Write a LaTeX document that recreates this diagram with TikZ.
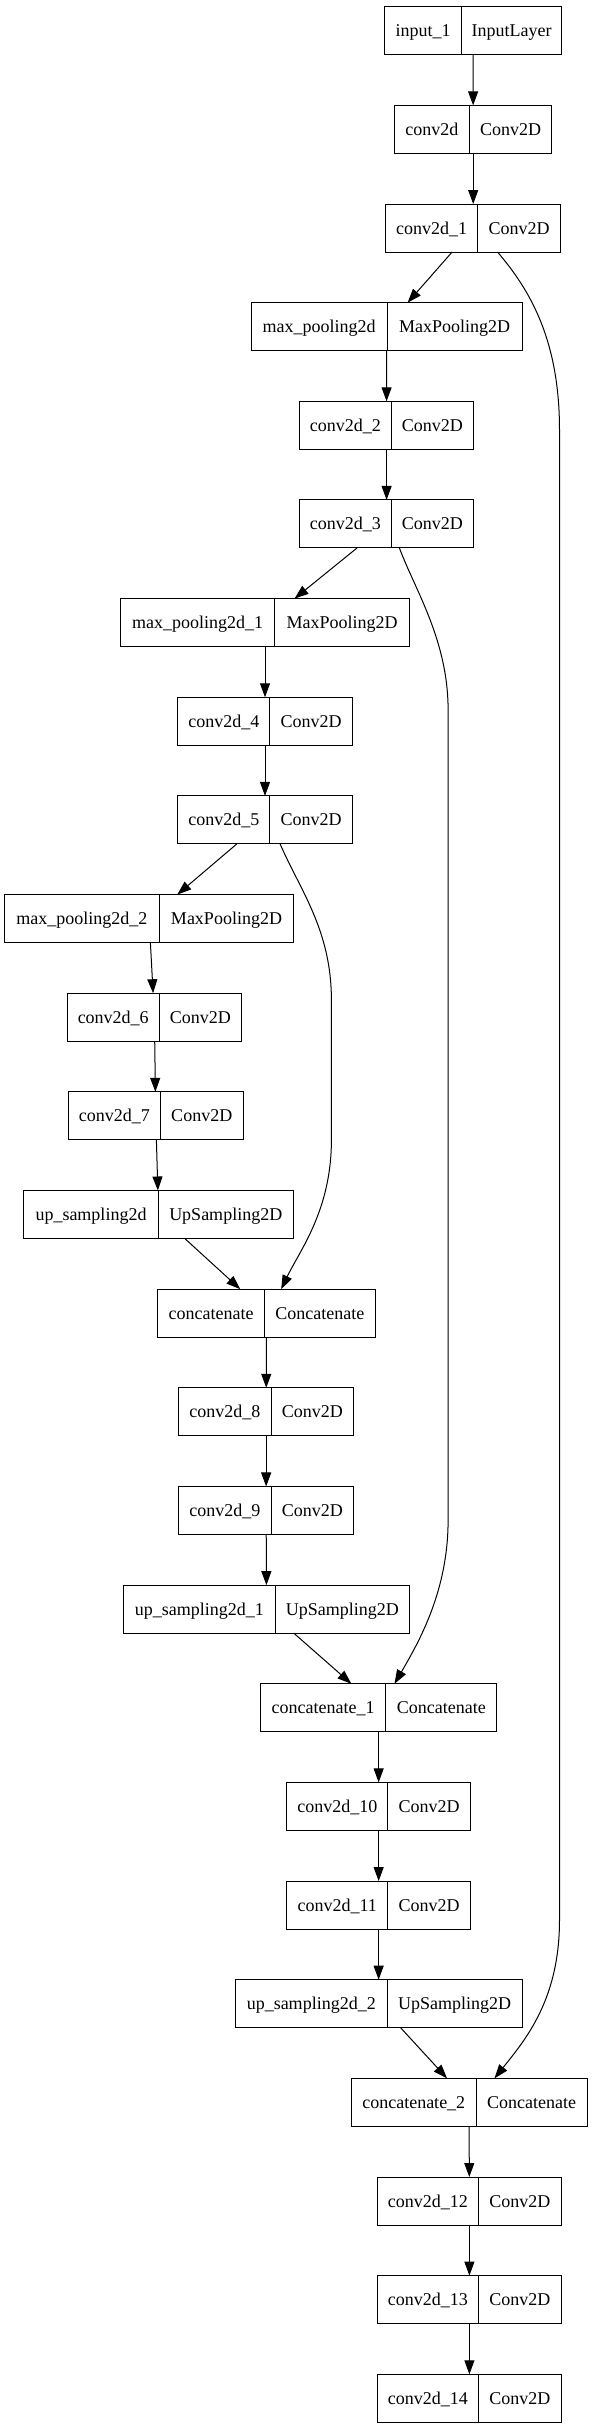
\documentclass[tikz,border=0pt]{standalone}
\usepackage{fontspec}
\setmainfont{Liberation Serif}
\usetikzlibrary{arrows.meta}
\tikzset{
  cell/.style={draw, line width=1pt, inner sep=0pt, outer sep=0pt, minimum height=48pt,
    text height=16pt, text depth=4pt, font=\fontsize{18}{20}\selectfont},
  boxarea/.style={inner sep=0pt, outer sep=0pt, minimum height=48pt},
  edge/.style={line width=1pt, -{Triangle[length=14pt,width=10pt]}}
}
\newcommand\lyr[7]{%
  \pgfmathsetmacro\yt{6.7+98.65*#5}%
  \node[cell, minimum width={(#3-#2)*1pt}, anchor=north west] (#1a) at (#2,\yt) {#6};%
  \node[cell, minimum width={(#4-#3)*1pt}, anchor=north west] (#1b) at (#3,\yt) {#7};%
  \node[boxarea, minimum width={(#4-#2)*1pt}, anchor=north west] (#1) at (#2,\yt) {};%
}
\begin{document}
\begin{tikzpicture}[x=1pt,y=-1pt]
\useasboundingbox (0,0) rectangle (592,2429);
\lyr{in1}{384.3}{461.7}{561.7}{0}{input\_1}{InputLayer}
\lyr{c0}{394.5}{469.2}{551.9}{1}{conv2d}{Conv2D}
\lyr{c1}{385.8}{477.5}{560.6}{2}{conv2d\_1}{Conv2D}
\lyr{mp0}{251}{387.3}{522.1}{3}{max\_pooling2d}{MaxPooling2D}
\lyr{c2}{299.4}{391.1}{473.8}{4}{conv2d\_2}{Conv2D}
\lyr{c3}{299.4}{391.1}{473.8}{5}{conv2d\_3}{Conv2D}
\lyr{mp1}{120.4}{274.8}{409.6}{6}{max\_pooling2d\_1}{MaxPooling2D}
\lyr{c4}{177.8}{269.9}{352.2}{7}{conv2d\_4}{Conv2D}
\lyr{c5}{177.8}{269.9}{352.2}{8}{conv2d\_5}{Conv2D}
\lyr{mp2}{4.5}{159.3}{293.7}{9}{max\_pooling2d\_2}{MaxPooling2D}
\lyr{c6}{67.2}{159.3}{241.6}{10}{conv2d\_6}{Conv2D}
\lyr{c7}{68.3}{160.4}{243.1}{11}{conv2d\_7}{Conv2D}
\lyr{up0}{23.8}{158.2}{293.3}{12}{up\_sampling2d}{UpSampling2D}
\lyr{cat0}{157.8}{264.6}{375.2}{13}{concatenate}{Concatenate}
\lyr{c8}{178.6}{271}{353.7}{14}{conv2d\_8}{Conv2D}
\lyr{c9}{178.6}{271}{353.7}{15}{conv2d\_9}{Conv2D}
\lyr{up1}{123.4}{275.2}{409.6}{16}{up\_sampling2d\_1}{UpSampling2D}
\lyr{cat1}{260.5}{385.8}{496.8}{17}{concatenate\_1}{Concatenate}
\lyr{c10}{286.9}{387.7}{470.4}{18}{conv2d\_10}{Conv2D}
\lyr{c11}{286.9}{387.7}{470.4}{19}{conv2d\_11}{Conv2D}
\lyr{up2}{235.2}{387.3}{522.1}{20}{up\_sampling2d\_2}{UpSampling2D}
\lyr{cat2}{351.1}{476.4}{587}{21}{concatenate\_2}{Concatenate}
\lyr{c12}{377.5}{478.3}{561.3}{22}{conv2d\_12}{Conv2D}
\lyr{c13}{377.5}{478.3}{561.3}{23}{conv2d\_13}{Conv2D}
\lyr{c14}{377.5}{478.3}{561.3}{24}{conv2d\_14}{Conv2D}
\foreach \a/\b in {in1/c0,c0/c1,c1/mp0,mp0/c2,c2/c3,c3/mp1,mp1/c4,c4/c5,c5/mp2,mp2/c6,c6/c7,c7/up0,up0/cat0,cat0/c8,c8/c9,c9/up1,up1/cat1,cat1/c10,c10/c11,c11/up2,up2/cat2,cat2/c12,c12/c13,c13/c14}
  \draw[edge] (\a) -- (\b);
% skip connections
\draw[edge] ([xshift=24.3pt]c1.south) .. controls (530,290) and (559.5,340) .. (559.5,430)
  -- (559.5,1920) .. controls (559.5,2000) and (525,2040) .. ([xshift=25.45pt]cat2.north);
\draw[edge] ([xshift=12.8pt]c3.south) .. controls (415,590) and (448.1,640) .. (448.1,710)
  -- (448.1,1520) .. controls (448.1,1590) and (420,1640) .. ([xshift=15.85pt]cat1.north);
\draw[edge] ([xshift=15.1pt]c5.south) .. controls (300,890) and (331.4,930) .. (331.4,1000)
  -- (331.4,1140) .. controls (331.4,1210) and (300,1250) .. ([xshift=14.7pt]cat0.north);
\end{tikzpicture}
\end{document}
